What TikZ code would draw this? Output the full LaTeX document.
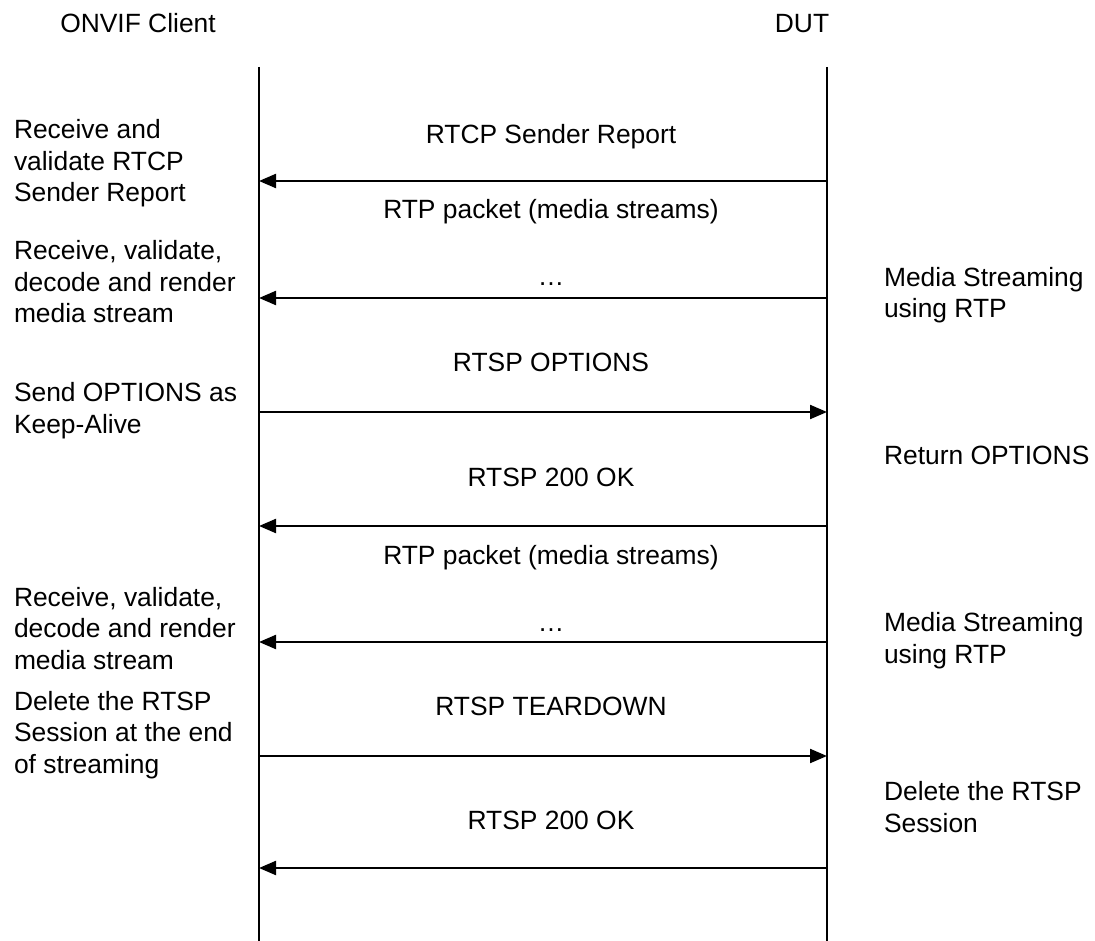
\documentclass[tikz,border=0pt]{standalone}
\usepackage{fontspec}
\setmainfont{Liberation Sans}
\usetikzlibrary{arrows.meta}
\begin{document}
\begin{tikzpicture}[x=1pt,y=-1pt,
  every node/.style={inner sep=0pt,outer sep=0pt,font=\fontsize{26.4}{31.5}\selectfont},
  lifeline/.style={line width=1.5pt,black},
  msg/.style={line width=2.2pt,-{Triangle[length=17pt,width=14pt]}},
  lbl/.style={anchor=base},
  side/.style={anchor=base west,align=left}]
\useasboundingbox[fill=white] (0,0) rectangle (1095,941);
% headers
\node[anchor=base] (hc) at (138,33) {ONVIF Client};
\node[anchor=base] (hd) at (802,33) {DUT};
% lifelines
\coordinate (ct) at (259,67);
\coordinate (cb) at (259,941);
\coordinate (dt) at (827,67);
\coordinate (db) at (827,941);
\draw[lifeline] (ct) -- (cb);
\draw[lifeline] (dt) -- (db);
% arrow end points
\foreach \n/\y in {1/181,2/298,3/412,4/526,5/642,6/756,7/868}{
  \coordinate (c\n) at (259,\y);
  \coordinate (d\n) at (827,\y);
}
\draw[msg] (d1) -- (c1);
\draw[msg] (d2) -- (c2);
\draw[msg] (c3) -- (d3);
\draw[msg] (d4) -- (c4);
\draw[msg] (d5) -- (c5);
\draw[msg] (c6) -- (d6);
\draw[msg] (d7) -- (c7);
% message labels
\node[lbl] (m1) at (551,144) {RTCP Sender Report};
\node[lbl] (m2) at (551,219) {RTP packet (media streams)};
\node[lbl] (m2b) at (551,286) {\dots};
\node[lbl] (m3) at (551,371) {RTSP OPTIONS};
\node[lbl] (m4) at (551,486) {RTSP 200 OK};
\node[lbl] (m5) at (551,564) {RTP packet (media streams)};
\node[lbl] (m5b) at (551,631) {\dots};
\node[lbl] (m6) at (551,715) {RTSP TEARDOWN};
\node[lbl] (m7) at (551,829) {RTSP 200 OK};
% client side notes (anchored at baseline of last line)
\node[side] (l1) at (14,202) {Receive and\\validate RTCP\\Sender Report};
\node[side] (l2) at (14,323) {Receive, validate,\\decode and render\\media stream};
\node[side] (l3) at (14,433) {Send OPTIONS as\\Keep-Alive};
\node[side] (l4) at (14,669) {Receive, validate,\\decode and render\\media stream};
\node[side] (l5) at (14,773) {Delete the RTSP\\Session at the end\\of streaming};
% DUT side notes
\node[side] (r1) at (884,318) {Media Streaming\\using RTP};
\node[side] (r2) at (884,464) {Return OPTIONS};
\node[side] (r3) at (884,663) {Media Streaming\\using RTP};
\node[side] (r4) at (884,832) {Delete the RTSP\\Session};
\end{tikzpicture}
\end{document}
